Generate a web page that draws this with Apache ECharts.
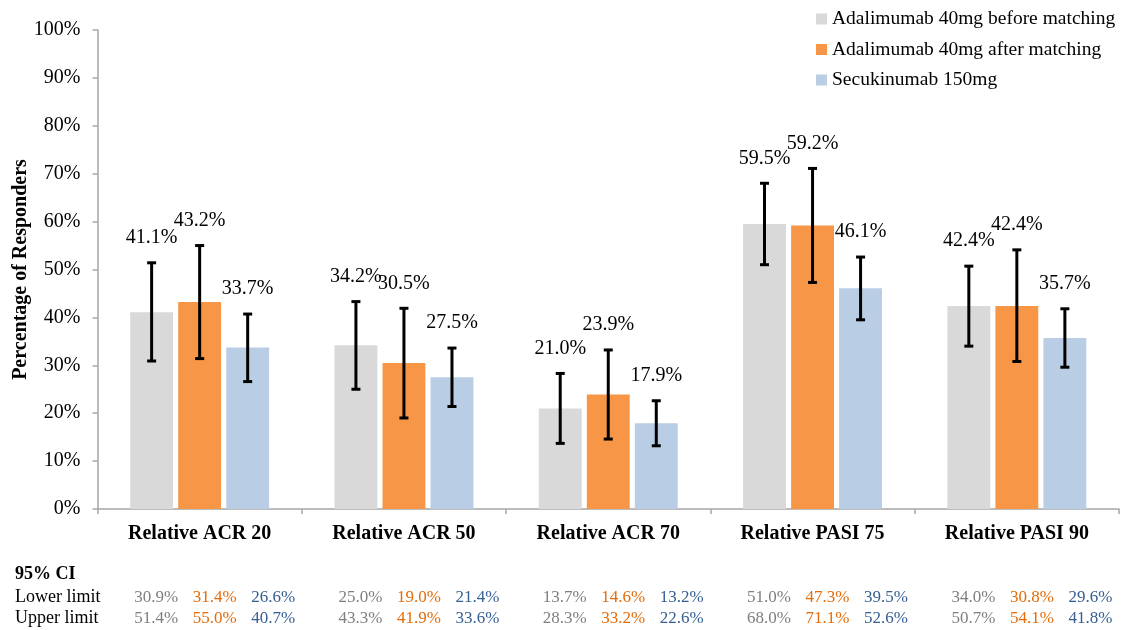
<!DOCTYPE html>
<html>
<head>
<meta charset="utf-8">
<title>Percentage of Responders</title>
<script src="https://cdn.jsdelivr.net/npm/echarts@6/dist/echarts.min.js"></script>
<style>
  html, body { margin: 0; padding: 0; background: #fff; }
  #chart { width: 1121px; height: 630px; }
</style>
</head>
<body>
<div id="chart"></div>
<script>
// ---- data ----
const categories = ['Relative ACR 20', 'Relative ACR 50', 'Relative ACR 70', 'Relative PASI 75', 'Relative PASI 90'];
const seriesNames = ['Adalimumab 40mg before matching', 'Adalimumab 40mg after matching', 'Secukinumab 150mg'];

const adaBefore = [41.1, 34.2, 21.0, 59.5, 42.4];
const adaAfter  = [43.2, 30.5, 23.9, 59.2, 42.4];
const secukinumab = [33.7, 27.5, 17.9, 46.1, 35.7];

const adaBeforeLower = [30.9, 25.0, 13.7, 51.0, 34.0];
const adaAfterLower  = [31.4, 19.0, 14.6, 47.3, 30.8];
const secukinumabLower = [26.6, 21.4, 13.2, 39.5, 29.6];

const adaBeforeUpper = [51.4, 43.3, 28.3, 68.0, 50.7];
const adaAfterUpper  = [55.0, 41.9, 33.2, 71.1, 54.1];
const secukinumabUpper = [40.7, 33.6, 22.6, 52.6, 41.8];

const yTicks = [0, 10, 20, 30, 40, 50, 60, 70, 80, 90, 100];

// ---- style ----
const FONT = "'Liberation Serif', 'Times New Roman', serif";
const barColors = ['#d9d9d9', '#f79646', '#b9cde5'];
const tableColors = ['#7f7f7f', '#e46c0a', '#376092'];
const AXIS_COLOR = '#a6a6a6';
const CAT_GAP = 0.32;
const BAR_GAP = 0.12;

const values = [adaBefore, adaAfter, secukinumab];
const lowers = [adaBeforeLower, adaAfterLower, secukinumabLower];
const uppers = [adaBeforeUpper, adaAfterUpper, secukinumabUpper];

const pct = v => v.toFixed(1) + '%';

// centre of bar `idx` inside its category group
function barOffset(api, idx) {
  const band = api.size([1, 0])[0];
  const bw = band * (1 - CAT_GAP) / (3 + 2 * BAR_GAP);
  return (idx - 1) * bw * (1 + BAR_GAP);
}

const barSeries = seriesNames.map((name, i) => ({
  type: 'bar',
  name,
  data: values[i],
  itemStyle: { color: barColors[i] },
  barCategoryGap: (CAT_GAP * 100) + '%',
  barGap: (BAR_GAP * 100) + '%',
  emphasis: { disabled: true }
}));

// whiskers with value labels sitting above the upper cap
const errorSeries = seriesNames.map((name, i) => ({
  type: 'custom',
  name: name + ' CI',
  z: 10,
  silent: true,
  encode: { x: 0, y: [1, 2] },
  data: categories.map((c, k) => [k, lowers[i][k], uppers[i][k], values[i][k]]),
  renderItem(params, api) {
    const k = api.value(0);
    const lo = api.coord([k, api.value(1)]);
    const hi = api.coord([k, api.value(2)]);
    const x = lo[0] + barOffset(api, i);
    const cap = 4.5;
    const st = { stroke: '#000', lineWidth: 3 };
    return {
      type: 'group',
      children: [
        { type: 'line', shape: { x1: x, y1: lo[1], x2: x, y2: hi[1] }, style: st },
        { type: 'line', shape: { x1: x - cap, y1: lo[1], x2: x + cap, y2: lo[1] }, style: st },
        { type: 'line', shape: { x1: x - cap, y1: hi[1], x2: x + cap, y2: hi[1] }, style: st },
        { type: 'text', style: {
            text: pct(api.value(3)), x: x, y: hi[1] - 25,
            align: 'center', verticalAlign: 'middle',
            font: '20px ' + FONT, fill: '#000' } }
      ]
    };
  }
}));

// 95% CI table under the category labels
const tableSeries = {
  type: 'custom',
  name: 'CI table',
  silent: true,
  clip: false,
  encode: { x: 0, y: 1 },
  data: categories.map((c, k) => [k, 0]),
  renderItem(params, api) {
    const k = api.value(0);
    const cx = api.coord([k, 0])[0];
    const bottom = params.coordSys.y + params.coordSys.height;
    const children = [];
    for (let i = 0; i < 3; i++) {
      const x = cx + 15 + (i - 1) * 58.5;
      [[lowers[i][k], 89], [uppers[i][k], 110]].forEach(([v, dy]) => {
        children.push({ type: 'text', style: {
          text: pct(v), x: x, y: bottom + dy, align: 'center', verticalAlign: 'middle',
          font: '17px ' + FONT, fill: tableColors[i] } });
      });
    }
    return { type: 'group', children };
  }
};

const chart = echarts.init(document.getElementById('chart'), null, { renderer: 'canvas' });
chart.setOption({
  animation: false,
  backgroundColor: '#fff',
  textStyle: { fontFamily: FONT },
  grid: { left: 97.5, top: 30, right: 2, bottom: 121, containLabel: false, outerBoundsMode: 'none' },
  legend: {
    data: seriesNames,
    orient: 'vertical',
    left: 816,
    top: 9,
    padding: 0,
    icon: 'rect',
    itemWidth: 11,
    itemHeight: 11,
    itemGap: 10.5,
    itemTextGap: 4,
    selectedMode: false,
    textStyle: { fontFamily: FONT, fontSize: 19.5, color: '#000' }
  },
  xAxis: {
    type: 'category',
    data: categories,
    axisLine: { lineStyle: { color: AXIS_COLOR, width: 1.5 } },
    axisTick: { show: true, length: 5, lineStyle: { color: AXIS_COLOR, width: 1.5 } },
    axisLabel: { fontFamily: FONT, fontSize: 20, fontWeight: 'bold', color: '#000', margin: 15 },
    splitLine: { show: false }
  },
  yAxis: {
    type: 'value',
    min: yTicks[0],
    max: yTicks[yTicks.length - 1],
    interval: yTicks[1] - yTicks[0],
    name: 'Percentage of Responders',
    nameLocation: 'middle',
    nameRotate: 90,
    nameGap: 67,
    nameMoveOverlap: false,
    nameTextStyle: { fontFamily: FONT, fontSize: 20, fontWeight: 'bold', color: '#000' },
    axisLine: { show: true, lineStyle: { color: AXIS_COLOR, width: 1.5 } },
    axisTick: { show: true, length: 5, lineStyle: { color: AXIS_COLOR, width: 1.5 } },
    axisLabel: { formatter: '{value}%', fontFamily: FONT, fontSize: 20, color: '#000', margin: 17 },
    splitLine: { show: false }
  },
  graphic: [
    { type: 'text', left: 15, top: 565, style: { text: '95% CI', font: 'bold 18px ' + FONT, fill: '#000' } },
    { type: 'text', left: 15, top: 588, style: { text: 'Lower limit', font: '18px ' + FONT, fill: '#000' } },
    { type: 'text', left: 15, top: 609, style: { text: 'Upper limit', font: '18px ' + FONT, fill: '#000' } }
  ],
  series: [...barSeries, ...errorSeries, tableSeries]
});
</script>
</body>
</html>
